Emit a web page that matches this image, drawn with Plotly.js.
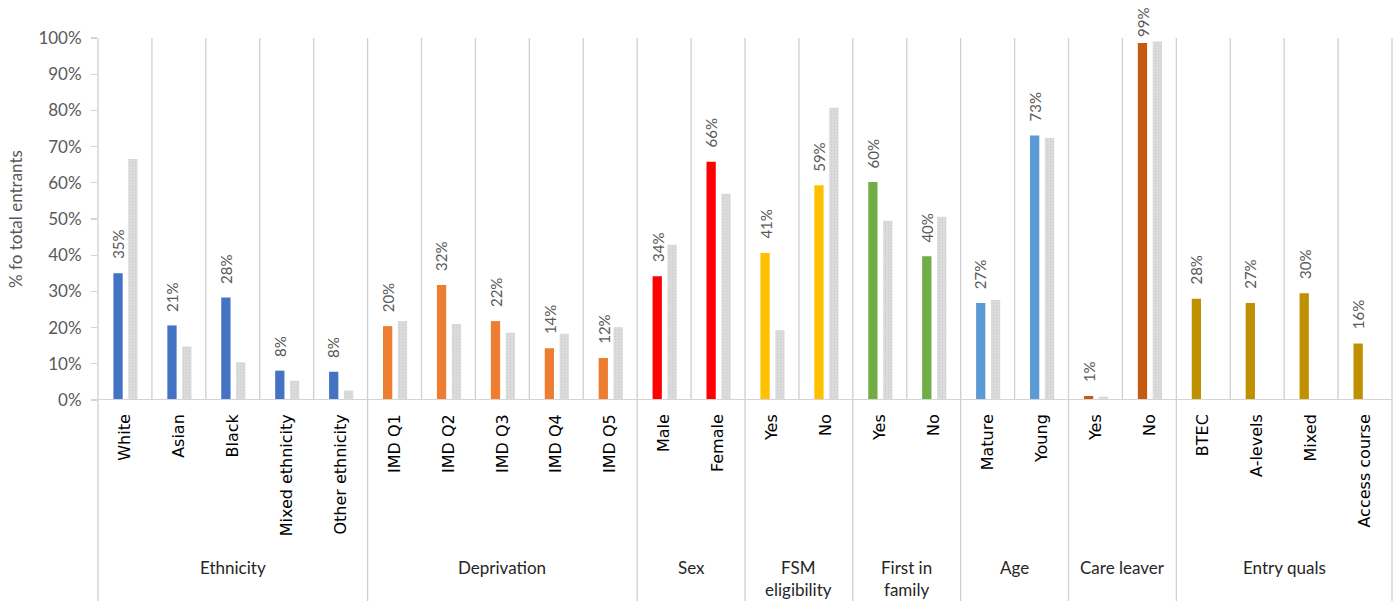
<!DOCTYPE html>
<html>
<head>
<meta charset="utf-8">
<script src="https://cdn.plot.ly/plotly-3.0.1.min.js"></script>
<style>
  html, body { margin: 0; padding: 0; background: #ffffff; }
  #chart { width: 1400px; height: 601px; }
</style>
</head>
<body>
<div id="chart"></div>
<script>
// Characteristic groups and how many categories each one holds
const groups = ['Ethnicity', 'Deprivation', 'Sex', 'FSM<br>eligibility', 'First in<br>family', 'Age', 'Care leaver', 'Entry quals'];
const groupSizes = [5, 5, 2, 2, 2, 2, 2, 4];
const groupColors = ['#4472C4', '#ED7D31', '#FF0000', '#FFC000', '#70AD47', '#5B9BD5', '#C55A11', '#BF9000'];

// Category labels along the axis
const categories = [
  'White', 'Asian', 'Black', 'Mixed ethnicity', 'Other ethnicity',
  'IMD Q1', 'IMD Q2', 'IMD Q3', 'IMD Q4', 'IMD Q5',
  'Male', 'Female',
  'Yes', 'No',
  'Yes', 'No',
  'Mature', 'Young',
  'Yes', 'No',
  'BTEC', 'A-levels', 'Mixed', 'Access course'
];

// % of total entrants (labelled series)
const entrantShare = [
  35.0, 20.6, 28.3, 8.1, 7.8,
  20.4, 31.8, 21.8, 14.3, 11.6,
  34.2, 65.8,
  40.6, 59.3,
  60.2, 39.7,
  26.8, 73.1,
  1.1, 98.6,
  28.0, 26.8, 29.5, 15.6
];

// Comparison share (grey series; not available for entry qualifications)
const comparisonShare = [
  66.6, 14.8, 10.4, 5.3, 2.6,
  21.8, 21.0, 18.6, 18.3, 20.1,
  42.9, 57.0,
  19.3, 80.7,
  49.5, 50.6,
  27.6, 72.4,
  0.9, 99.0,
  null, null, null, null
];

// ---- derived values ----
const n = categories.length;
const idx = categories.map((_, i) => i);
const barColors = [];
groupSizes.forEach((size, g) => { for (let k = 0; k < size; k++) barColors.push(groupColors[g]); });

const BAR_W = 0.172;
const LEFT_OFF = -0.214;
const RIGHT_OFF = 0.062;
const xRange = [-0.5, n - 0.5];
const toPaper = v => (v - xRange[0]) / (xRange[1] - xRange[0]);

const plotTop = 38, plotBottom = 400, figH = 601;
const plotH = plotBottom - plotTop;
const pxToPaperY = px => (plotBottom - px) / plotH;

const traces = [
  {
    type: 'bar', x: idx, y: entrantShare,
    width: BAR_W, offset: LEFT_OFF,
    marker: { color: barColors, line: { width: 0 } },
    hovertemplate: '%{y:.1f}%<extra></extra>',
    showlegend: false
  },
  {
    type: 'bar', x: idx, y: comparisonShare,
    width: BAR_W, offset: RIGHT_OFF,
    marker: {
      color: '#d9d9d9',
      line: { width: 0 },
      pattern: { shape: '.', size: 3, solidity: 0.15, fgcolor: '#cdcdcd', bgcolor: '#dbdbdb' }
    },
    hovertemplate: '%{y:.1f}%<extra></extra>',
    showlegend: false
  }
];

const shapes = [];
const annotations = [];

// Separators: every category boundary inside the plot, group boundaries run to the bottom
const groupEdges = new Set([0]);
let acc = 0;
groupSizes.forEach(s => { acc += s; groupEdges.add(acc); });
for (let k = 0; k <= n; k++) {
  const xp = toPaper(k - 0.5);
  const isGroupEdge = groupEdges.has(k);
  shapes.push({
    type: 'line', xref: 'paper', yref: 'paper',
    x0: xp, x1: xp, y0: 1, y1: isGroupEdge ? pxToPaperY(figH) : 0,
    line: { color: '#d0d0d0', width: 1.3 }, layer: 'below'
  });
}
// Baseline
shapes.push({
  type: 'line', xref: 'paper', yref: 'y', x0: 0, x1: 1, y0: 0, y1: 0,
  line: { color: '#d4d4d4', width: 2 }, layer: 'above'
});

// Group names under the category labels
acc = 0;
groupSizes.forEach((size, g) => {
  const center = acc + size / 2 - 0.5;
  acc += size;
  annotations.push({
    xref: 'paper', yref: 'paper', x: toPaper(center), y: pxToPaperY(555),
    xanchor: 'center', yanchor: 'top', showarrow: false,
    text: groups[g], align: 'center',
    font: { family: 'Lato, sans-serif', size: 17, color: '#262626' }
  });
});

// Value labels above the coloured bars (kept inside the top of the figure)
const labelX = LEFT_OFF + BAR_W / 2;
const LABEL_GAP = 12, LABEL_LEN = 30, TOP_PAD = 9;
entrantShare.forEach((v, i) => {
  const barTopPx = plotBottom - v / 100 * plotH;
  const shift = Math.min(LABEL_GAP, barTopPx - LABEL_LEN - TOP_PAD);
  annotations.push({
    x: i + labelX, y: v, xref: 'x', yref: 'y',
    text: Math.round(v) + '%', textangle: -90,
    xanchor: 'center', yanchor: 'bottom', yshift: shift,
    showarrow: false,
    font: { family: 'Lato, sans-serif', size: 15, color: '#595959' }
  });
});

const layout = {
  width: 1400, height: 601,
  margin: { l: 98, r: 8, t: plotTop, b: figH - plotBottom, pad: 0 },
  paper_bgcolor: '#ffffff', plot_bgcolor: '#ffffff',
  barmode: 'overlay',
  xaxis: {
    range: xRange, tickmode: 'array', tickvals: idx, ticktext: categories,
    tickangle: -90, ticks: '', showgrid: false, zeroline: false, showline: false,
    ticklabelstandoff: 10,
    tickfont: { family: 'DejaVu Sans, sans-serif', size: 16, color: '#000000' },
    fixedrange: true
  },
  yaxis: {
    range: [0, 100], dtick: 10, ticksuffix: '%',
    showgrid: false, zeroline: false, showline: false,
    ticks: 'outside', ticklen: 6, tickcolor: '#d4d4d4', tickwidth: 1.3,
    ticklabelstandoff: 6,
    tickfont: { family: 'Lato, sans-serif', size: 17, color: '#595959' },
    title: { text: '% fo total entrants', standoff: 11, font: { family: 'Lato, sans-serif', size: 17, color: '#595959' } },
    fixedrange: true
  },
  shapes: shapes,
  annotations: annotations,
  showlegend: false
};

Plotly.newPlot('chart', traces, layout, { displayModeBar: false, staticPlot: true });
</script>
</body>
</html>
